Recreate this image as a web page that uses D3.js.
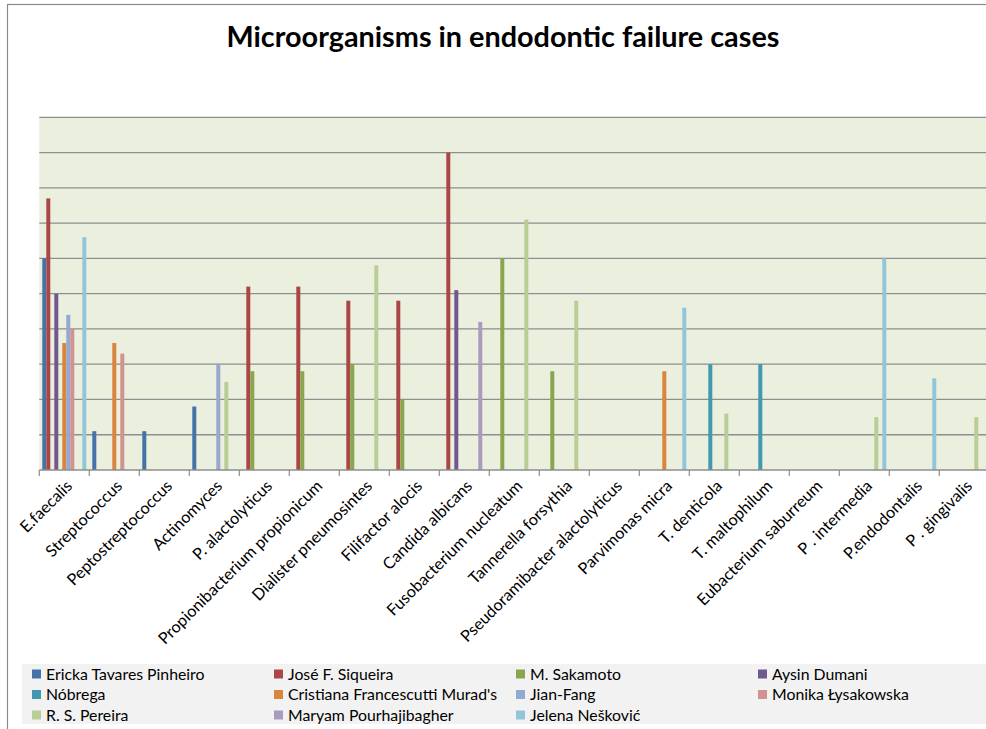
<!DOCTYPE html>
<html><head><meta charset="utf-8">
<script src="https://cdn.jsdelivr.net/npm/d3@7/dist/d3.min.js"></script>
<style>body{margin:0;background:#fff}svg{display:block}</style>
</head><body>
<svg id="c" width="986" height="729"></svg>
<script>
const categories = ["E.faecalis","Streptococcus","Peptostreptococcus","Actinomyces","P. alactolyticus","Propionibacterium propionicum","Dialister pneumosintes","Filifactor alocis","Candida albicans","Fusobacterium nucleatum","Tannerella forsythia","Pseudoramibacter alactolyticus","Parvimonas micra","T. denticola","T. maltophilum","Eubacterium saburreum","P . intermedia","P.endodontalis","P . gingivalis"];
const seriesNames = ["Ericka Tavares Pinheiro","José F. Siqueira","M. Sakamoto","Aysin Dumani","Nóbrega","Cristiana Francescutti Murad's","Jian-Fang","Monika Łysakowska","R. S. Pereira","Maryam Pourhajibagher","Jelena Nešković"];
const seriesColors = ["#4572a7","#aa4643","#89a54e","#71588f","#4198af","#db843d","#93a9cf","#d19392","#b9cd96","#a99bbd","#92c5d8"];
//                         Efae Strep Pept Acti Palac Prop Dial Fili Cand Fuso Tann Pseu Parv Tden Tmal Eub  Pint Pend Pgin
const ericka    = [6.0, 1.1, 1.1, 1.8, 0,   0,   0,   0,   0,   0,   0,   0,   0,   0,   0,   0,   0,   0,   0];
const siqueira  = [7.7, 0,   0,   0,   5.2, 5.2, 4.8, 4.8, 9.0, 0,   0,   0,   0,   0,   0,   0,   0,   0,   0];
const sakamoto  = [0,   0,   0,   0,   2.8, 2.8, 3.0, 2.0, 0,   6.0, 2.8, 0,   0,   0,   0,   0,   0,   0,   0];
const dumani    = [5.0, 0,   0,   0,   0,   0,   0,   0,   5.1, 0,   0,   0,   0,   0,   0,   0,   0,   0,   0];
const nobrega   = [0,   0,   0,   0,   0,   0,   0,   0,   0,   0,   0,   0,   0,   3.0, 3.0, 0,   0,   0,   0];
const murad     = [3.6, 3.6, 0,   0,   0,   0,   0,   0,   0,   0,   0,   0,   2.8, 0,   0,   0,   0,   0,   0];
const jianFang  = [4.4, 0,   0,   3.0, 0,   0,   0,   0,   0,   0,   0,   0,   0,   0,   0,   0,   0,   0,   0];
const lysakowska= [4.0, 3.3, 0,   0,   0,   0,   0,   0,   0,   0,   0,   0,   0,   0,   0,   0,   0,   0,   0];
const pereira   = [0,   0,   0,   2.5, 0,   0,   5.8, 0,   0,   7.1, 4.8, 0,   0,   1.6, 0,   0,   1.5, 0,   1.5];
const pourhaji  = [0,   0,   0,   0,   0,   0,   0,   0,   4.2, 0,   0,   0,   0,   0,   0,   0,   0,   0,   0];
const neskovic  = [6.6, 0,   0,   0,   0,   0,   0,   0,   0,   0,   0,   0,   4.6, 0,   0,   0,   6.0, 2.6, 0];
const seriesValues = [ericka,siqueira,sakamoto,dumani,nobrega,murad,jianFang,lysakowska,pereira,pourhaji,neskovic];
const yTicks = [0,1,2,3,4,5,6,7,8,9,10];
const titleText = "Microorganisms in endodontic failure cases";

const svg = d3.select("#c");
const FONT = "Lato, 'Open Sans', sans-serif";
// outer frame
svg.append("rect").attr("x",7.5).attr("y",4.5).attr("width",1000).attr("height",800)
  .attr("fill","none").attr("stroke","#8a8a8a").attr("stroke-width",1.2);

svg.append("text").attr("x",503).attr("y",47).attr("text-anchor","middle")
  .attr("font-family",FONT).attr("font-weight","bold").attr("font-size",28.8)
  .attr("fill","#000").text(titleText);

const plot = {left:39.3, right:989.3, top:117.3, bottom:470};
const x0 = d3.scaleBand().domain(categories).range([plot.left,plot.right]).paddingInner(0).paddingOuter(0);
const x1 = d3.scaleBand().domain(seriesNames).range([3, x0.bandwidth()-3]).padding(0);
const y = d3.scaleLinear().domain([0,10]).range([plot.bottom, plot.top]);

svg.append("rect").attr("x",plot.left).attr("y",plot.top).attr("width",plot.right-plot.left)
  .attr("height",plot.bottom-plot.top).attr("fill","#ebf0de");

svg.append("g").selectAll("line").data(yTicks.slice(1)).join("line")
  .attr("x1",plot.left).attr("x2",plot.right).attr("y1",d=>y(d)).attr("y2",d=>y(d))
  .attr("stroke","#8e8e8e").attr("stroke-width",1.3);

const gBars = svg.append("g");
seriesNames.forEach((s,si)=>{
  gBars.append("g").selectAll("rect").data(seriesValues[si].map((v,i)=>({c:categories[i],v}))
    .filter(d=>d.v>0)).join("rect")
    .attr("x",d=>x0(d.c)+x1(s)).attr("width",x1.bandwidth())
    .attr("y",d=>y(d.v)).attr("height",d=>y(0)-y(d.v))
    .attr("fill",seriesColors[si]);
});

// x axis
const axisG = svg.append("g").attr("transform",`translate(0,${plot.bottom})`);
axisG.append("line").attr("x1",plot.left).attr("x2",plot.right).attr("stroke","#8e8e8e").attr("stroke-width",1.3);
axisG.selectAll("line.tick").data(d3.range(categories.length+1)).join("line").attr("class","tick")
  .attr("x1",i=>plot.left+i*x0.step()).attr("x2",i=>plot.left+i*x0.step())
  .attr("y1",0).attr("y2",6).attr("stroke","#8e8e8e").attr("stroke-width",1.2);
axisG.selectAll("text").data(categories).join("text")
  .attr("transform",d=>`translate(${x0(d)+x0.bandwidth()/2+9},${17}) rotate(-45)`)
  .attr("text-anchor","end").attr("font-family",FONT).attr("font-size",16.2).attr("fill","#000")
  .text(d=>d);

// legend
const leg = svg.append("g");
leg.append("rect").attr("x",22).attr("y",664).attr("width",970).attr("height",60).attr("fill","#f2f2f2");
seriesNames.forEach((s,i)=>{
  const col = i%4, row = Math.floor(i/4);
  const lx = 32 + col*242, ly = 674 + row*20.5;
  leg.append("rect").attr("x",lx).attr("y",ly-4.5).attr("width",9).attr("height",9).attr("fill",seriesColors[i]);
  leg.append("text").attr("x",lx+14).attr("y",ly).attr("dy","0.35em")
    .attr("font-family",FONT).attr("font-size",15.8).attr("fill","#000").text(s);
});
</script>
</body></html>
